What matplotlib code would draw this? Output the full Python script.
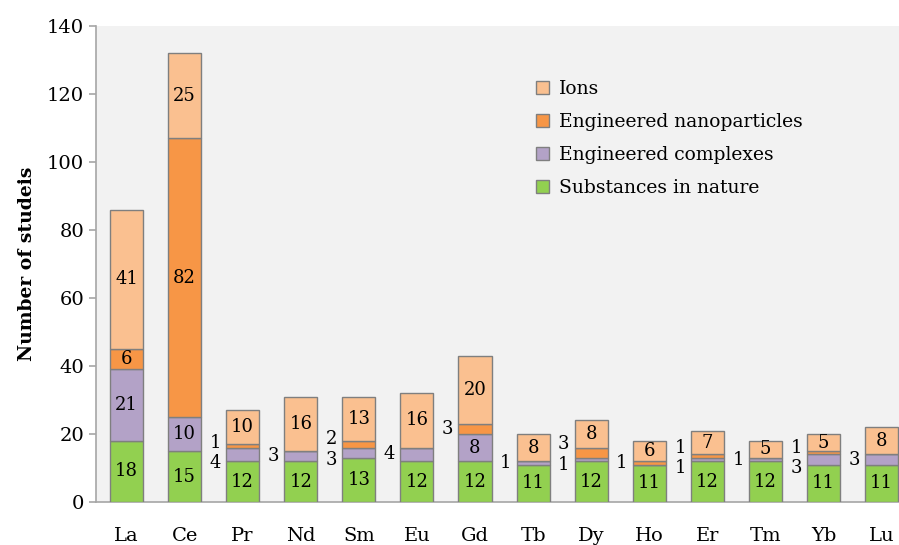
import matplotlib
import matplotlib.pyplot as plt
import numpy as np

matplotlib.use("Agg")

elements = ["La", "Ce", "Pr", "Nd", "Sm", "Eu", "Gd", "Tb", "Dy", "Ho",
            "Er", "Tm", "Yb", "Lu"]
nature = [18, 15, 12, 12, 13, 12, 12, 11, 12, 11, 12, 12, 11, 11]
complexes = [21, 10, 4, 3, 3, 4, 8, 1, 1, 0, 1, 1, 3, 3]
nanoparticles = [6, 82, 1, 0, 2, 0, 3, 0, 3, 1, 1, 0, 1, 0]
ions = [41, 25, 10, 16, 13, 16, 20, 8, 8, 6, 7, 5, 5, 8]

series = [
    ("Substances in nature", nature, "#92d050"),
    ("Engineered complexes", complexes, "#b3a2c7"),
    ("Engineered nanoparticles", nanoparticles, "#f79646"),
    ("Ions", ions, "#fac090"),
]

plt.rcParams["font.family"] = ["DejaVu Serif"]

fig = plt.figure(figsize=(8.99, 5.45), dpi=100)
ax = fig.add_axes([0.1068, 0.0789, 0.8932, 0.8733])
ax.set_facecolor("#f2f2f2")

x = np.arange(len(elements))
width = 0.57
bottom = np.zeros(len(elements))
handles = []
outside = {i: [] for i in range(len(elements))}
for name, vals, color in series:
    vals = np.array(vals, dtype=float)
    bars = ax.bar(x, vals, width, bottom=bottom, color=color,
                  edgecolor="#7f7f7f", linewidth=1.0, label=name, zorder=3)
    handles.append(bars)
    for i, v in enumerate(vals):
        if v == 0:
            continue
        yc = bottom[i] + v / 2
        if v >= 5:
            ax.text(x[i], yc, f"{int(v)}", ha="center", va="center",
                    fontsize=13, zorder=4)
        else:
            outside[i].append((bottom[i], v))
    bottom += vals

# small values written to the left of the bar
for i, segs in outside.items():
    if not segs:
        continue
    if len(segs) == 1:
        b, v = segs[0]
        ys = [b + v / 2]
    else:
        lo = segs[0][0]
        hi = segs[-1][0] + segs[-1][1]
        mid = (lo + hi) / 2
        ys = [mid - 3.0, mid + 3.0]
    for (b, v), yy in zip(segs, ys):
        ax.text(x[i] - 0.47, yy, f"{int(v)}", ha="center", va="center",
                fontsize=13, zorder=4)

ax.set_xlim(-0.525, 13.3)
ax.set_ylim(0, 140)
ax.set_yticks(range(0, 141, 20))
ax.set_xticks(x)
ax.set_xticklabels(elements, fontsize=14)
ax.tick_params(axis="x", length=0, pad=18)
ax.tick_params(axis="y", labelsize=14, length=5, color="#a6a6a6", width=1.2)
for s in ["top", "right"]:
    ax.spines[s].set_visible(False)
for s in ["left", "bottom"]:
    ax.spines[s].set_color("#a6a6a6")
    ax.spines[s].set_linewidth(1.2)

ax.set_ylabel("Number of studeis", fontsize=13.5, fontweight="bold", labelpad=8)

leg = ax.legend(handles=handles[::-1], loc="upper left",
                bbox_to_anchor=(0.527, 0.922), frameon=False, fontsize=13.5,
                handlelength=0.7, handleheight=0.7, handletextpad=0.5,
                labelspacing=0.8)

fig.savefig("out.png", dpi=100)
